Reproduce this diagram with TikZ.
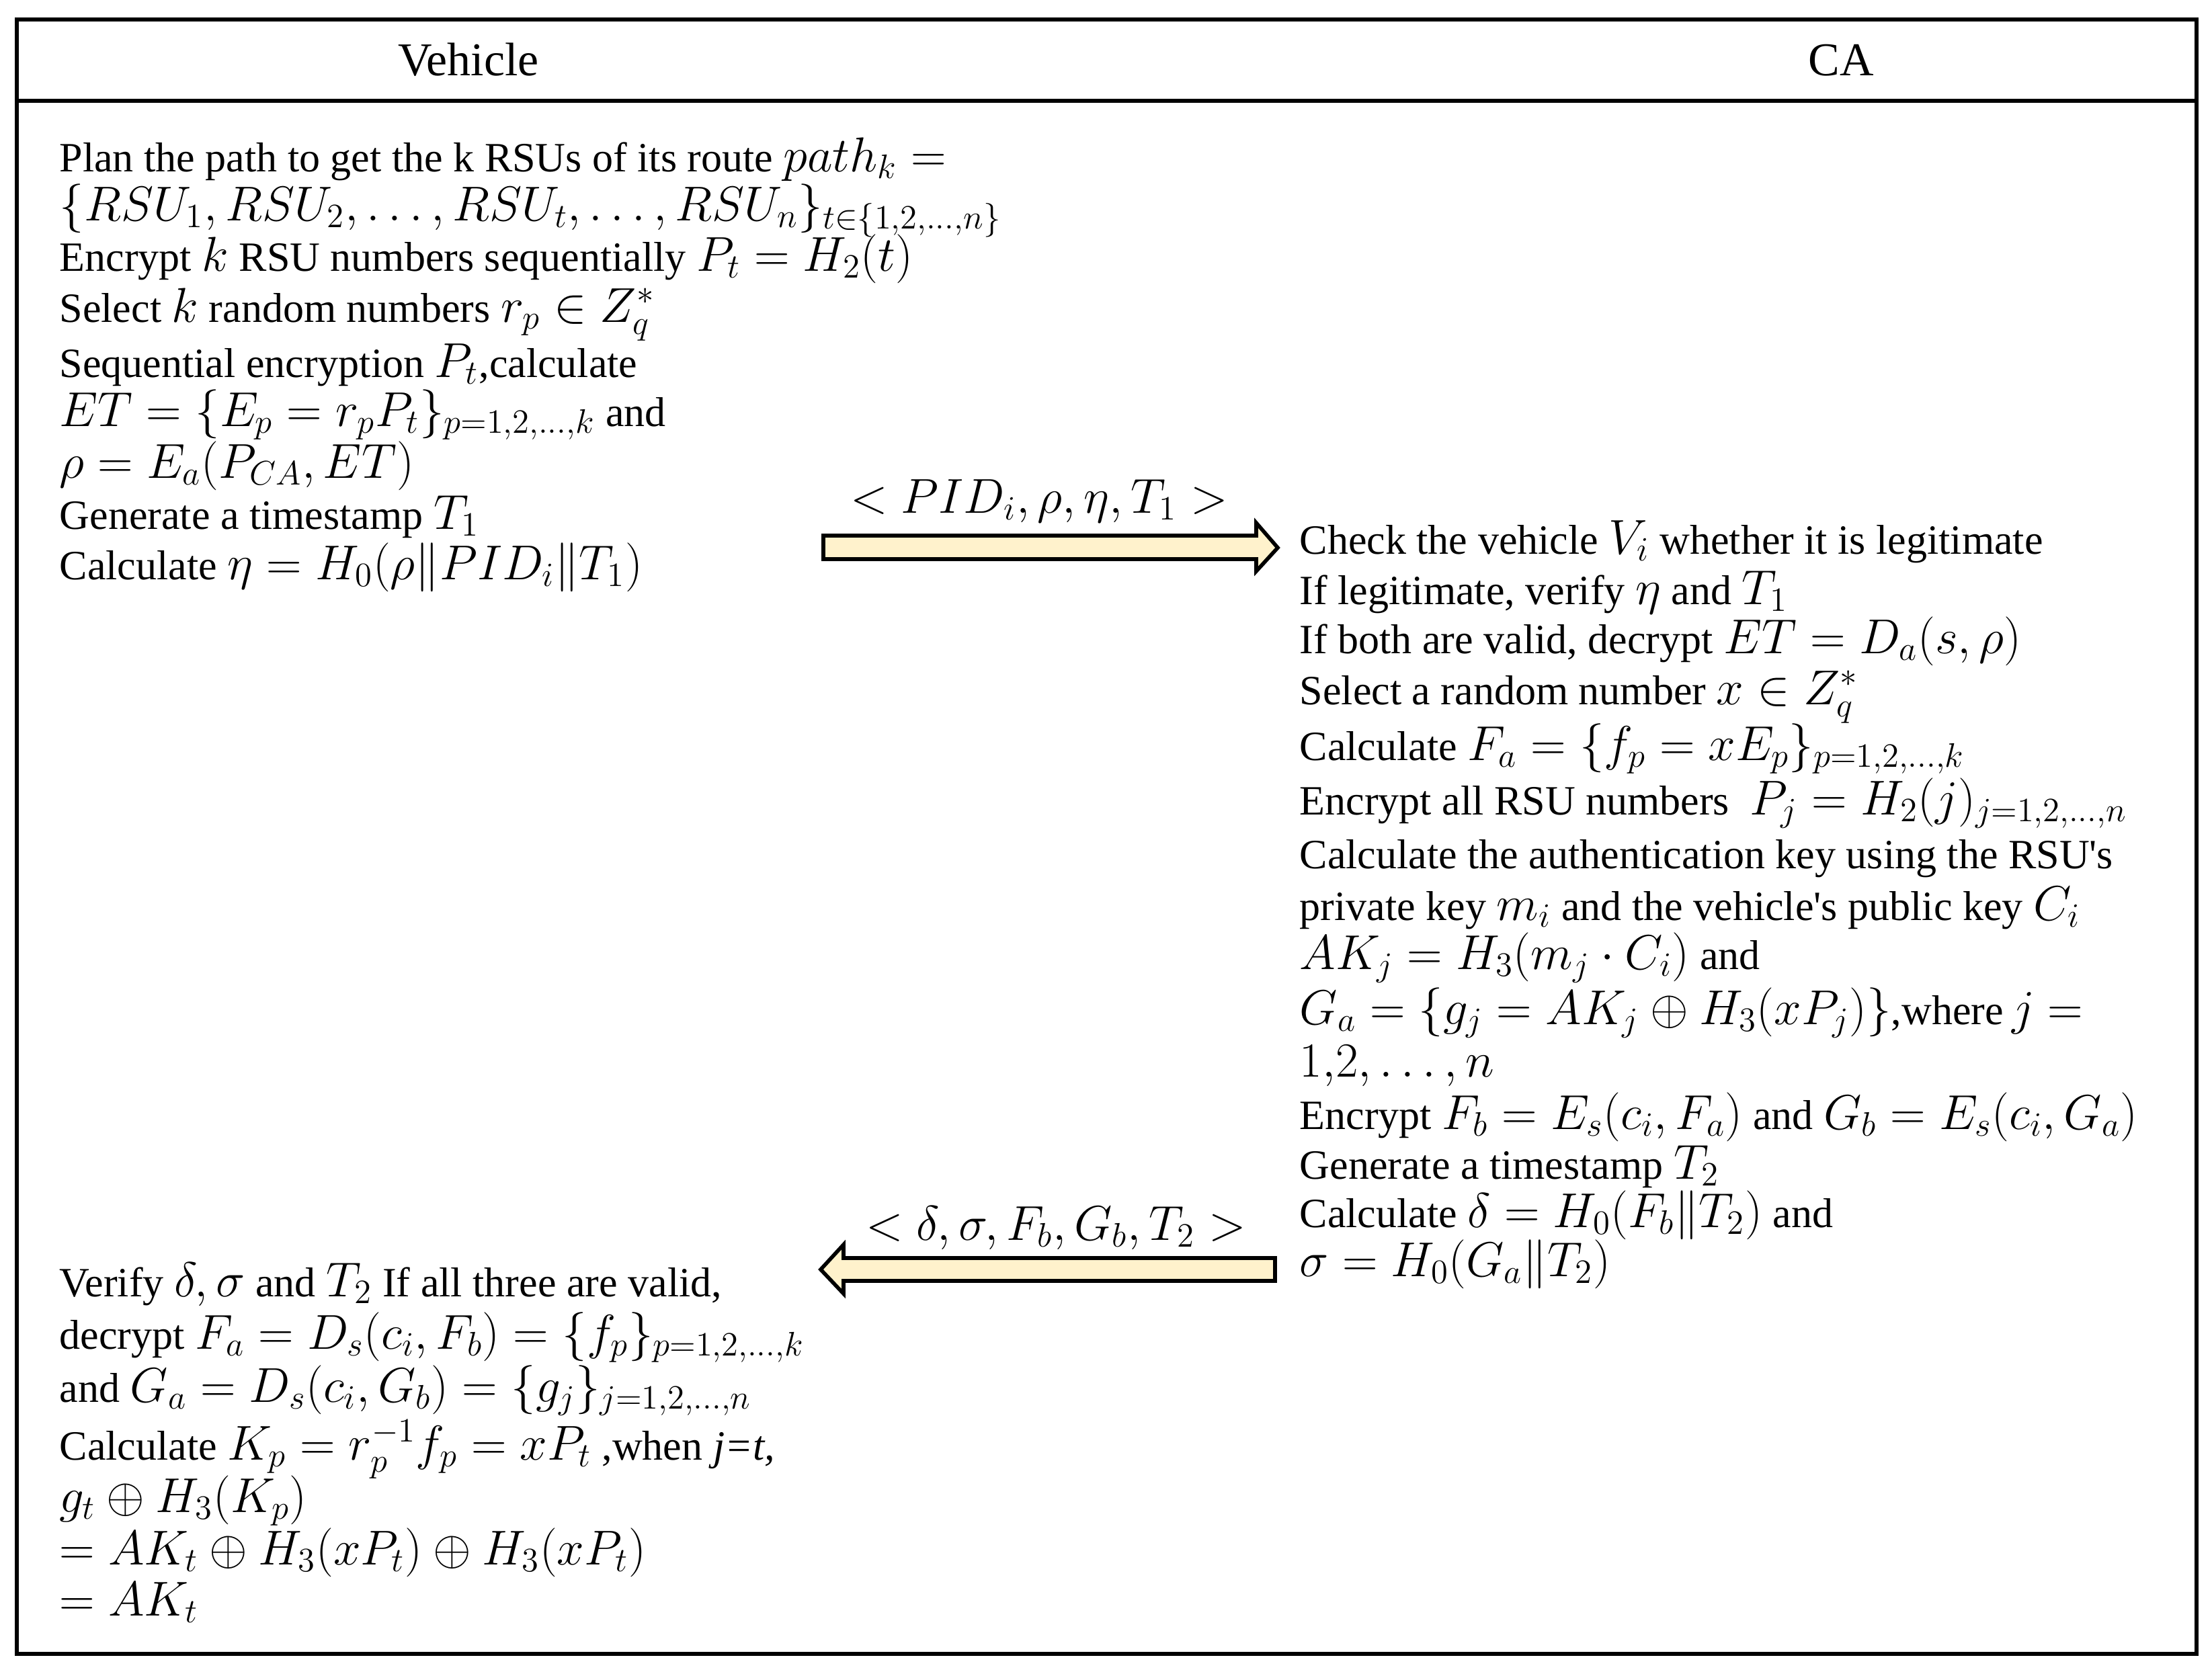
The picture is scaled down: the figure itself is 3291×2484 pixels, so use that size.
\documentclass[tikz,border=0pt]{standalone}
\usepackage{fontspec}
\setmainfont{Liberation Serif}
\DeclareMathSizes{17.64}{19.4}{14.6}{11.6}
\definecolor{arrowfill}{HTML}{FFF2CC}
\begin{document}
\begin{tikzpicture}[x=0.01cm,y=-0.01cm,
  txt/.style={anchor=base west, inner sep=0pt, text height=14pt, text depth=5pt, font=\fontsize{17.64}{21}\selectfont},
  hdr/.style={anchor=base, inner sep=0pt, font=\fontsize{19.9}{24}\selectfont},
  msg/.style={anchor=base, inner sep=0pt, text height=14pt, text depth=5pt, font=\fontsize{17.64}{21}\selectfont},
  frame/.style={line width=1.5pt},
  blockarrow/.style={draw=black, line width=1.6pt, fill=arrowfill, line join=miter}]
\useasboundingbox (0,0) rectangle (3291,2484);
% frame
\draw[frame] (25,29) rectangle (3268,2461);
\draw[frame] (25,150) -- (3268,150);
\node[hdr] (hv) at (697,112) {Vehicle};
\node[hdr] (hc) at (2739,112) {CA};
% vehicle block 1
\node[txt] (v1) at (88,255) {Plan the path to get the k RSUs of its route $path_k =$};
\node[txt] (v2) at (88,328) {$\{RSU_1, RSU_2, \ldots, RSU_t, \ldots, RSU_n\}_{t\in\{1,2,\ldots,n\}}$};
\node[txt] (v3) at (88,403) {Encrypt $k$ RSU numbers sequentially $P_t = H_2(t)$};
\node[txt] (v4) at (88,479) {Select $k$ random numbers $r_p \in Z_q^*$};
\node[txt] (v5) at (88,561) {Sequential encryption $P_t$,calculate};
\node[txt] (v6) at (88,634) {$ET = \{E_p = r_p P_t\}_{p=1,2,\ldots,k}$ and};
\node[txt] (v7) at (88,711) {$\rho = E_a(P_{CA}, ET)$};
\node[txt] (v8) at (88,787) {Generate a timestamp $T_1$};
\node[txt] (v9) at (88,862) {Calculate $\eta = H_0(\rho \| PID_i \| T_1)$};
% CA block
\node[txt] (c1) at (1933,824) {Check the vehicle $V_i$ whether it is legitimate};
\node[txt] (c2) at (1933,899) {If legitimate, verify $\eta$ and $T_1$};
\node[txt] (c3) at (1933,972) {If both are valid, decrypt $ET = D_a(s, \rho)$};
\node[txt] (c4) at (1933,1048) {Select a random number $x \in Z_q^*$};
\node[txt] (c5) at (1933,1131) {Calculate $F_a = \{f_p = xE_p\}_{p=1,2,\ldots,k}$};
\node[txt] (c6) at (1933,1212) {Encrypt all RSU numbers\ \ $P_j = H_2(j)_{j=1,2,\ldots,n}$};
\node[txt] (c7) at (1933,1292) {Calculate the authentication key using the RSU\textquotesingle s};
\node[txt] (c8) at (1933,1369) {private key $m_i$ and the vehicle\textquotesingle s public key $C_i$};
\node[txt] (c9) at (1933,1442) {$AK_j = H_3(m_j \cdot C_i)$ and};
\node[txt] (c10) at (1933,1524) {$G_a = \{g_j = AK_j \oplus H_3(xP_j)\}$,where$\,j =$};
\node[txt] (c11) at (1933,1602) {$1{,}2, \ldots, n$};
\node[txt] (c12) at (1933,1680) {Encrypt $F_b = E_s(c_i, F_a)$ and $G_b = E_s(c_i, G_a)$};
\node[txt] (c13) at (1933,1754) {Generate a timestamp $T_2$};
\node[txt] (c14) at (1933,1826) {Calculate $\delta = H_0(F_b \| T_2)$ and};
\node[txt] (c15) at (1933,1899) {$\sigma = H_0(G_a \| T_2)$};
% vehicle block 2
\node[txt] (w1) at (88,1929) {Verify $\delta, \sigma$ and $T_2$ If all three are valid,};
\node[txt] (w2) at (88,2007) {decrypt $F_a = D_s(c_i, F_b) = \{f_p\}_{p=1,2,\ldots,k}$};
\node[txt] (w3) at (88,2086) {and $G_a = D_s(c_i, G_b) = \{g_j\}_{j=1,2,\ldots,n}$};
\node[txt] (w4) at (88,2172) {Calculate $K_p = r_p^{-1} f_p = xP_t$ ,when \textit{j=t,}};
\node[txt] (w5) at (88,2250) {$g_t \oplus H_3(K_p)$};
\node[txt] (w6) at (88,2328) {$= AK_t \oplus H_3(xP_t) \oplus H_3(xP_t)$};
\node[txt] (w7) at (88,2404) {$= AK_t$};
% message arrows
\node[msg] (m1) at (1546,763) {$<PID_i, \rho, \eta, T_1>$};
\draw[blockarrow] (1225,797) -- (1869,797) -- (1869,778) -- (1901,815) -- (1869,850) -- (1869,832) -- (1225,832) -- cycle;
\node[msg] (m2) at (1571,1845) {$<\delta, \sigma, F_b, G_b, T_2>$};
\draw[blockarrow] (1897,1872) -- (1255,1872) -- (1255,1852) -- (1221,1889) -- (1255,1925) -- (1255,1906) -- (1897,1906) -- cycle;
\end{tikzpicture}
\end{document}
